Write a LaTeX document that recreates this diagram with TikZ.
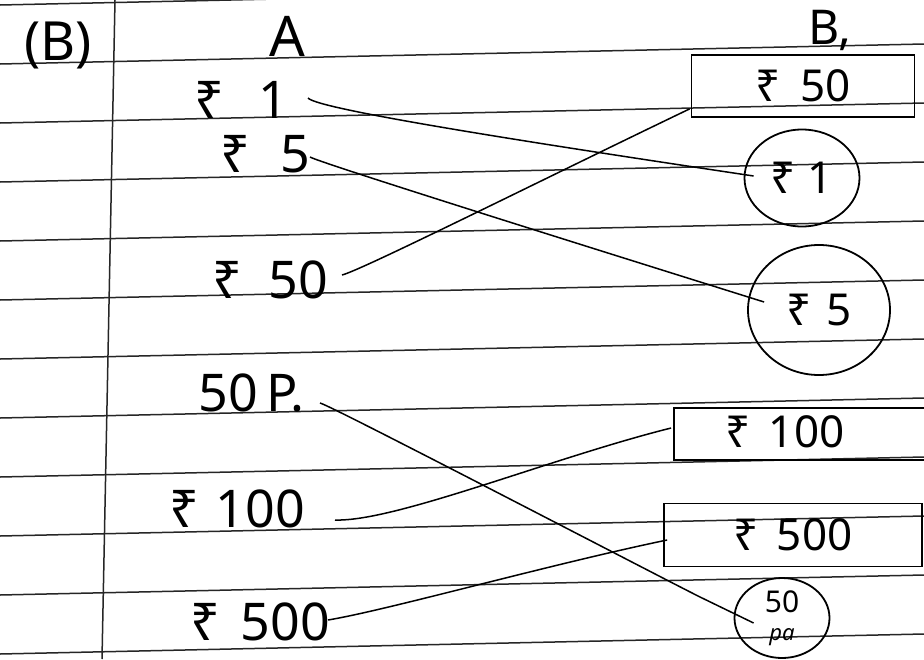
\documentclass[tikz,border=0pt]{standalone}
\usepackage{fontspec}
\setmainfont{Noto Sans}
\usetikzlibrary{shapes.geometric,calc}
\begin{document}
\begin{tikzpicture}[x=1pt,y=-1pt,
  rule/.style={line width=1.5pt,black!85},
  ink/.style={line width=1.8pt,black},
  lbl/.style={inner sep=0pt,font=\fontsize{52}{54}\selectfont},
  rlbl/.style={inner sep=0pt,font=\fontsize{44}{46}\selectfont},
  boxnode/.style={draw,ink,rectangle,inner sep=0pt},
  ringnode/.style={draw,ink,ellipse,inner sep=0pt},
  conn/.style={line width=1.5pt,black}]
\clip (0,0) rectangle (924,659);
\fill[white] (0,0) rectangle (924,659);
% ruled notebook lines
\foreach \y in {5,64,...,657} \draw[rule] (0,\y) -- (924,\y-20);
\draw[rule] (115,0) -- (102,659);
% headings
\node[lbl,font=\fontsize{54}{56}\selectfont] (hq) at (58,45) {(B)};
\node[lbl,font=\fontsize{56}{58}\selectfont] (hA) at (287,36) {A};
\node[lbl,font=\fontsize{48}{50}\selectfont] (hB) at (830,30) {B,};
% column A
\node[lbl,anchor=base east] (a1) at (288,118) {₹\hspace{34pt}1};
\node[lbl,anchor=base east] (a5) at (310,172) {₹\hspace{30pt}5};
\node[lbl,anchor=base east] (a50) at (328,298) {₹\hspace{26pt}50};
\node[lbl,anchor=base east] (a50p) at (305,411) {50\hspace{8pt}P.};
\node[lbl,anchor=base east] (a100) at (305,527) {₹\hspace{16pt}100};
\node[lbl,anchor=base east] (a500) at (330,640) {₹\hspace{20pt}500};
% column B
\node[boxnode,rlbl,minimum width=223pt,minimum height=62pt] (b50) at (803,86) {₹\hspace{20pt}50};
\node[ringnode,rlbl,minimum width=115pt,minimum height=97pt] (b1) at (802,178) {₹\hspace{12pt}1};
\node[ringnode,rlbl,minimum width=142pt,minimum height=130pt] (b5) at (819,310) {₹\hspace{14pt}5};
\node[boxnode,minimum width=286pt,minimum height=52pt] (b100) at (817,434) {};
\node[rlbl] (t100) at (785,432) {₹\hspace{18pt}100};
\node[boxnode,rlbl,minimum width=258pt,minimum height=63pt] (b500) at (793,535) {₹\hspace{18pt}500};
\node[ringnode,align=center,minimum width=95pt,minimum height=80pt,font=\fontsize{30}{30}\selectfont] (b50p) at (782,618) {50\\[-2pt]{\fontsize{22}{22}\selectfont\itshape pa}};
% connectors
\coordinate (kink) at (700,597);
\draw[conn] ($(a1.base east)+(20,-20)$) .. controls +(10,12) and +(-200,-30) .. ($(b1.west)+(10,-2)$);
\draw[conn] ($(a5.base east)+(0,-15)$) .. controls +(10,6) and +(-150,-47) .. ($(b5.west)+(17,-8)$);
\draw[conn] ($(a50.base east)+(14,-23)$) .. controls +(20,-5) and +(-150,72) .. ($(b50.south west)+(-1,-9)$);
\draw[conn] ($(a50p.base east)+(15,-8)$) .. controls +(10,2) and +(-40,-20) .. (kink) -- ($(b50p.west)+(20,5)$);
\draw[conn] ($(a100.base east)+(30,-7)$) .. controls +(60,2) and +(-120,30) .. ($(b100.west)+(-2,-6)$);
\draw[conn] ($(a500.base east)+(-2,-20)$) .. controls +(60,-10) and +(-120,25) .. ($(b500.west)+(4,5)$);
\end{tikzpicture}
\end{document}
